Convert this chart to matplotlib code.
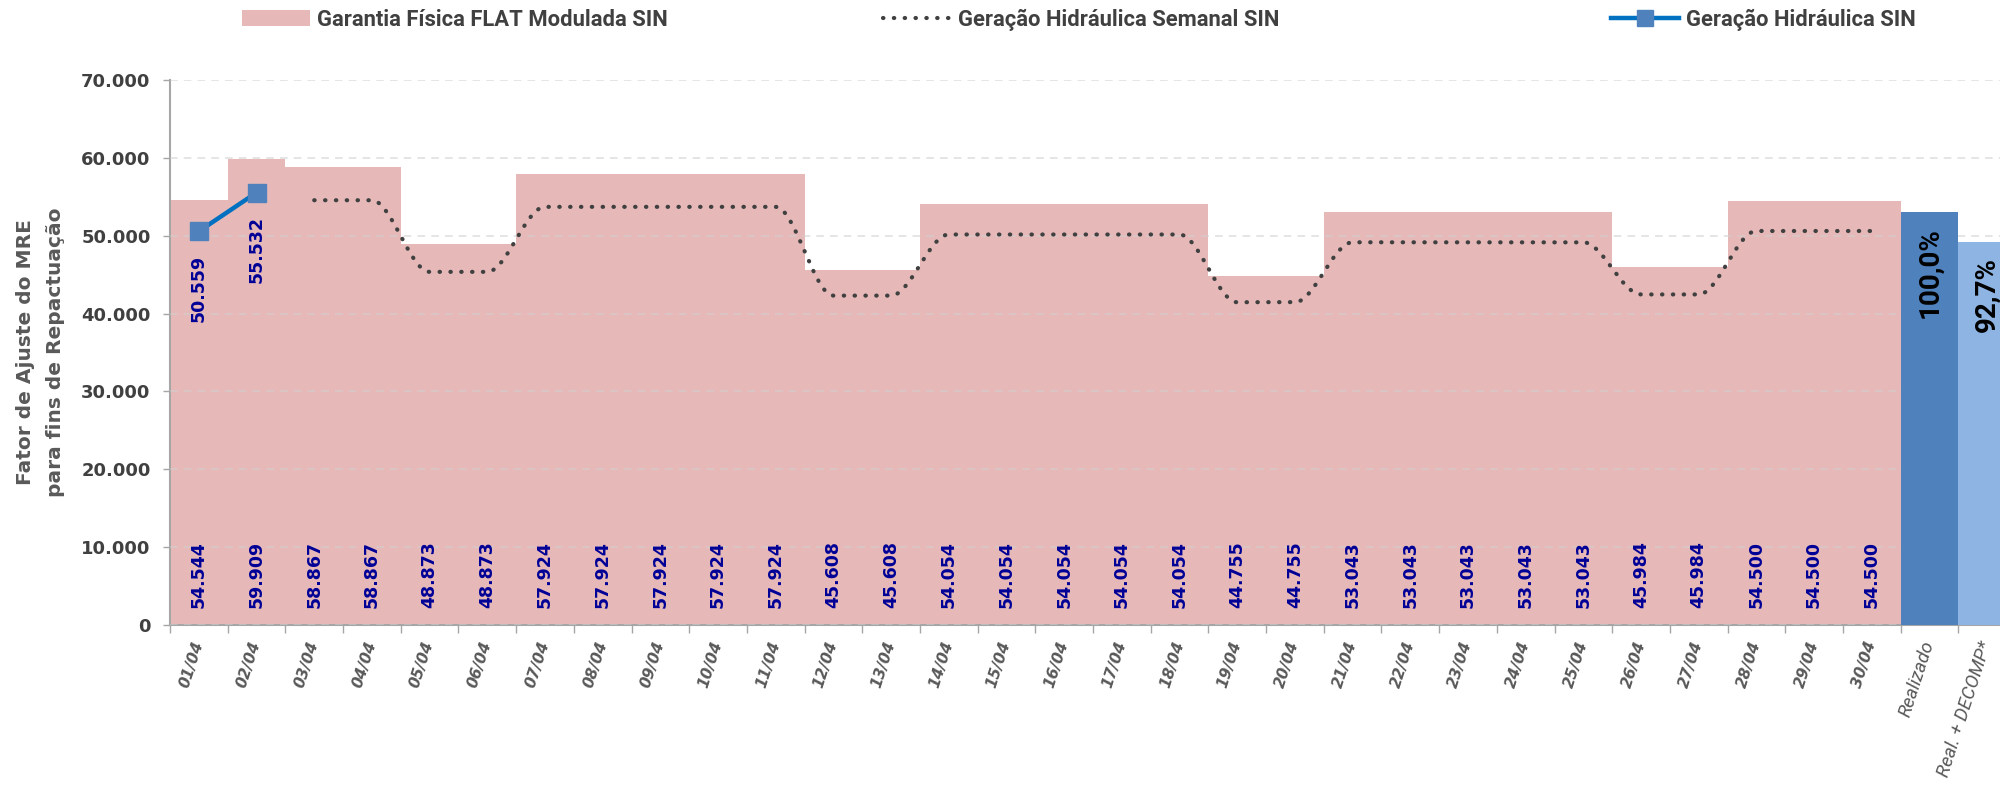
import numpy as np
import matplotlib
matplotlib.use("Agg")
import matplotlib.pyplot as plt
from matplotlib.lines import Line2D
from matplotlib.patches import Patch

# ---------------------------------------------------------------- data
dias = ["01/04", "02/04", "03/04", "04/04", "05/04", "06/04", "07/04", "08/04",
        "09/04", "10/04", "11/04", "12/04", "13/04", "14/04", "15/04", "16/04",
        "17/04", "18/04", "19/04", "20/04", "21/04", "22/04", "23/04", "24/04",
        "25/04", "26/04", "27/04", "28/04", "29/04", "30/04"]

garantia_flat = [54544, 59909, 58867, 58867, 48873, 48873, 57924, 57924, 57924,
                 57924, 57924, 45608, 45608, 54054, 54054, 54054, 54054, 54054,
                 44755, 44755, 53043, 53043, 53043, 53043, 53043, 45984, 45984,
                 54500, 54500, 54500]

geracao_semanal = [np.nan, np.nan, 54550, 54550, 45350, 45350, 53700, 53700,
                   53700, 53700, 53700, 42300, 42300, 50150, 50150, 50150,
                   50150, 50150, 41450, 41450, 49150, 49150, 49150, 49150,
                   49150, 42450, 42450, 50600, 50600, 50600]

geracao_diaria = [50559, 55532]

resumo_labels = ["Realizado", "Real. + DECOMP*"]
resumo_valores = [1.000, 0.927]

yticks = [0, 10000, 20000, 30000, 40000, 50000, 60000, 70000]

# ---------------------------------------------------------------- styles
PINK = "#E6B9B8"
BLUE_LINE = "#0070C0"
BLUE_MARK = "#4F81BD"
BAR_REAL = "#4F81BD"
BAR_DECOMP = "#8DB4E2"
LABEL_NAVY = "#000096"
DARK = "#404040"
GREY = "#595959"
AXIS_GREY = "#A6A6A6"
SANS = ["Roboto", "DejaVu Sans"]
DOTS = (0, (0.1, 2.5))


def fmt_br(v):
    return f"{v:,.0f}".replace(",", ".")


def monotone_curve(xk, yk, n=40):
    """Monotone cubic Hermite curve through the given knots."""
    xk = np.asarray(xk, float)
    yk = np.asarray(yk, float)
    h = np.diff(xk)
    d = np.diff(yk) / h
    m = np.zeros_like(yk)
    for k in range(1, len(yk) - 1):
        if d[k - 1] * d[k] > 0:
            m[k] = 2.0 / (1.0 / d[k - 1] + 1.0 / d[k])
    xs, ys = [], []
    for k in range(len(xk) - 1):
        t = np.linspace(0, 1, n, endpoint=(k == len(xk) - 2))
        h00 = 2 * t**3 - 3 * t**2 + 1
        h10 = t**3 - 2 * t**2 + t
        h01 = -2 * t**3 + 3 * t**2
        h11 = t**3 - t**2
        xs.append(xk[k] + t * h[k])
        ys.append(h00 * yk[k] + h10 * h[k] * m[k] + h01 * yk[k + 1] + h11 * h[k] * m[k + 1])
    return np.concatenate(xs), np.concatenate(ys)


# ---------------------------------------------------------------- figure
fig = plt.figure(figsize=(20, 7.93), dpi=100)
ax = fig.add_axes([0.085, 0.2119, 0.923, 0.6873])

x = np.arange(len(dias))
categorias = dias + resumo_labels
xc = np.arange(len(categorias))

# Garantia física (stepped background bars)
ax.bar(x, garantia_flat, width=1.0, color=PINK, linewidth=0, zorder=1)

# Weekly hydro generation, smoothed dotted curve
sem = np.asarray(geracao_semanal, float)
ok = ~np.isnan(sem)
cx, cy = monotone_curve(x[ok], sem[ok])
ax.plot(cx, cy, linestyle=DOTS, linewidth=3.0, color=DARK,
        dash_capstyle="round", zorder=3)

# Daily hydro generation
xd = x[:len(geracao_diaria)]
ax.plot(xd, geracao_diaria, color=BLUE_LINE, linewidth=3.2, marker="s",
        markersize=13, markerfacecolor=BLUE_MARK, markeredgecolor=BLUE_MARK,
        zorder=4)
for xi, v in zip(xd, geracao_diaria):
    ax.annotate(fmt_br(v), (xi, v), xytext=(0, -17), textcoords="offset points",
                rotation=90, ha="center", va="top", fontsize=12.5,
                fontweight="bold", color=LABEL_NAVY, zorder=5)

# Value labels at the base of each bar
for xi, v in zip(x, garantia_flat):
    ax.annotate(fmt_br(v), (xi, 0), xytext=(0, 12), textcoords="offset points",
                rotation=90, ha="center", va="bottom", fontsize=12.5,
                fontweight="bold", color=LABEL_NAVY, zorder=5)

# Summary bars on a secondary (percentage) scale
ax2 = ax.twinx()
ax2.set_ylim(0, 1.32)
ax2.axis("off")
xr = xc[len(dias):]
ax2.bar(xr, resumo_valores, width=1.0, color=[BAR_REAL, BAR_DECOMP], linewidth=0)
for xi, v in zip(xr, resumo_valores):
    ax2.annotate(f"{v * 100:.1f}%".replace(".", ","), (xi, v), xytext=(0, -11),
                 textcoords="offset points", rotation=90, ha="center", va="top",
                 fontsize=20, fontweight="bold", color="black", family=SANS)

# ---------------------------------------------------------------- axes
ax.set_xlim(-0.5, len(categorias) - 0.5)
ax.set_ylim(0, 70000)
ax.set_yticks(yticks)
ax.set_yticklabels([fmt_br(v) for v in yticks], fontsize=13,
                   fontweight="bold", color=DARK)
ax.tick_params(axis="y", length=5, width=1, color=AXIS_GREY, pad=9)

ax.set_xticks(np.arange(-0.5, len(categorias), 1.0))
ax.set_xticklabels([])
ax.tick_params(axis="x", which="major", length=6, width=1, color=AXIS_GREY)
ax.set_xticks(xc, minor=True)
ax.set_xticklabels(categorias, minor=True)
ax.tick_params(axis="x", which="minor", length=0, pad=12)
for i, lab in enumerate(ax.get_xticklabels(minor=True)):
    lab.set_rotation(72)
    lab.set_rotation_mode("anchor")
    lab.set_ha("right")
    lab.set_va("center")
    lab.set_color(GREY)
    if i < len(dias):
        lab.set_family("DejaVu Sans")
        lab.set_fontsize(11)
        lab.set_fontweight("bold")
        lab.set_fontstyle("italic")
    else:
        lab.set_family(SANS)
        lab.set_fontsize(13.5)
        lab.set_fontstyle("italic")

for side in ("top", "right"):
    ax.spines[side].set_visible(False)
for side in ("left", "bottom"):
    ax.spines[side].set_color(AXIS_GREY)
    ax.spines[side].set_linewidth(1.5)

ax.set_axisbelow(False)
ax.yaxis.grid(True, linestyle=(0, (5, 4)), color="#D0D0D0", linewidth=1.1, alpha=0.7)

ax.set_ylabel("Fator de Ajuste do MRE\npara fins de Repactuação", fontsize=14.5,
              fontweight="bold", color=GREY, linespacing=1.7)
ax.yaxis.set_label_coords(-0.057, 0.5)

# ---------------------------------------------------------------- legend
leg_font = dict(family=SANS, weight="bold", size=15.8)
handles = [
    (Patch(facecolor=PINK, edgecolor="none"), "Garantia Física FLAT Modulada SIN", 242),
    (Line2D([], [], linestyle=DOTS, linewidth=3.0, color=DARK,
            dash_capstyle="round"), "Geração Hidráulica Semanal SIN", 883),
    (Line2D([], [], color=BLUE_LINE, linewidth=3.2, marker="s", markersize=11,
            markerfacecolor=BLUE_MARK, markeredgecolor=BLUE_MARK),
     "Geração Hidráulica SIN", 1611),
]
for h, txt, px in handles:
    fig.legend([h], [txt], loc="center left", bbox_to_anchor=(px / 2000, 0.975),
               frameon=False, prop=leg_font, borderpad=0, borderaxespad=0,
               handlelength=3.1, handleheight=0.7, handletextpad=0.3,
               labelcolor=DARK)

fig.savefig("out.png", dpi=100)
